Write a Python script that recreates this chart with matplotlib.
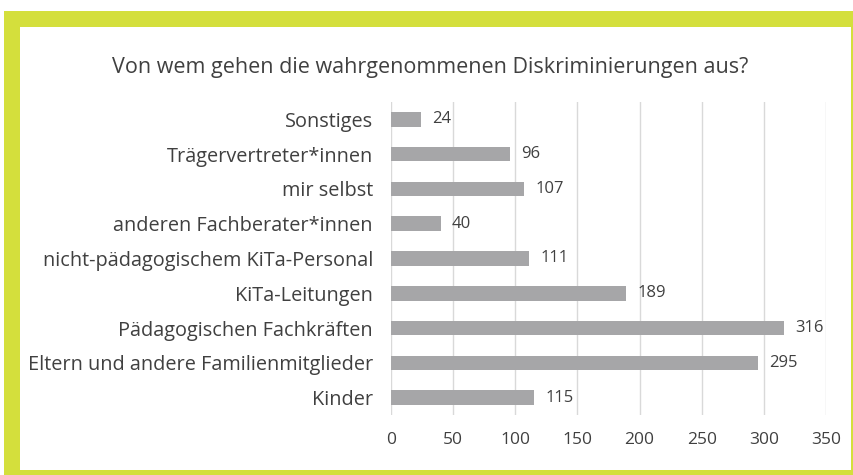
import matplotlib.pyplot as plt
from matplotlib.patches import Rectangle

plt.rcParams['font.family'] = ['Open Sans', 'DejaVu Sans']

categories = ['Kinder', 'Eltern und andere Familienmitglieder', 'Pädagogischen Fachkräften',
              'KiTa-Leitungen', 'nicht-pädagogischem KiTa-Personal', 'anderen Fachberater*innen',
              'mir selbst', 'Trägervertreter*innen', 'Sonstiges']
values = [115, 295, 316, 189, 111, 40, 107, 96, 24]
xticks = [0, 50, 100, 150, 200, 250, 300, 350]

text_color = '#404040'
bar_color = '#a6a6a8'
grid_color = '#d9d9d9'
frame_color = '#d4df3c'

W, H = 854, 475
fig = plt.figure(figsize=(W / 100, H / 100), dpi=100)
fig.patch.set_facecolor('white')

# yellow frame with white inner panel
fig.patches.append(Rectangle((4 / W, 0), 850 / W, 464 / H, transform=fig.transFigure,
                             facecolor=frame_color, edgecolor='none', zorder=-2))
fig.patches.append(Rectangle((20 / W, 5 / H), 831 / W, 443 / H, transform=fig.transFigure,
                             facecolor='white', edgecolor='none', zorder=-1))

ax = fig.add_axes([391 / W, 60 / H, 435 / W, 313 / H])
ax.set_zorder(1)
ax.set_facecolor('none')
ypos = list(range(len(categories)))
ax.barh(ypos, values, height=0.42, color=bar_color, zorder=3)
for y, v in zip(ypos, values):
    ax.text(v + 9, y, str(v), va='center', ha='left', fontsize=12, color=text_color)

ax.set_xlim(0, 350)
ax.set_ylim(-0.5, len(categories) - 0.5)
ax.set_xticks(xticks)
ax.set_yticks(ypos)
ax.set_yticklabels(categories, fontsize=14.3, color=text_color)
ax.tick_params(axis='x', length=0, pad=12, labelsize=12.5, labelcolor=text_color)
ax.tick_params(axis='y', length=0, pad=13)
ax.grid(axis='x', color=grid_color, linewidth=1, zorder=0)
for s in ax.spines.values():
    s.set_visible(False)

fig.text(430 / W, 1 - 68 / H, 'Von wem gehen die wahrgenommenen Diskriminierungen aus?',
         ha='center', va='center', fontsize=15.5, color=text_color)

fig.savefig('out.png', dpi=100)
